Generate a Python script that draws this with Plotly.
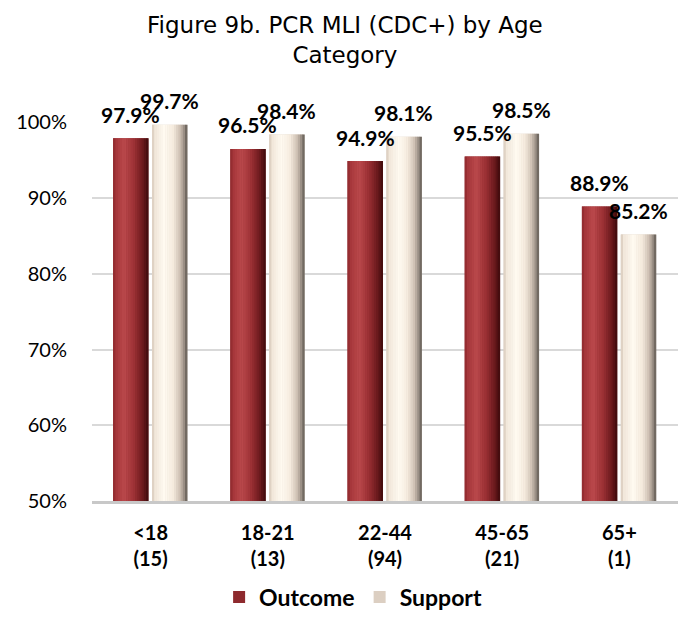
import plotly.graph_objects as go

# Data
categories = ["<18<br>(15)", "18-21<br>(13)", "22-44<br>(94)", "45-65<br>(21)", "65+<br>(1)"]
outcome = [0.979, 0.965, 0.949, 0.955, 0.889]
support = [0.997, 0.984, 0.981, 0.985, 0.852]

x = list(range(len(categories)))

BAR_W = 0.30
OUT_OFF = -0.32
SUP_OFF = 0.012

# Horizontal colour profiles that give each bar a rounded, cylinder-like look
OUT_STOPS = [(0.0, "#8a272b"), (0.08, "#a5363a"), (0.32, "#bb494c"),
             (0.6, "#9b3034"), (0.85, "#6a191c"), (1.0, "#3c0a0c")]
SUP_STOPS = [(0.0, "#d3c5b6"), (0.08, "#f1e7da"), (0.35, "#fffaf1"),
             (0.6, "#f5ebde"), (0.8, "#cdbfb2"), (0.92, "#958a80"), (1.0, "#5c554e")]


def hex_to_rgb(h):
    h = h.lstrip("#")
    return tuple(int(h[i:i + 2], 16) for i in (0, 2, 4))


def sample(stops, t):
    for (t0, c0), (t1, c1) in zip(stops[:-1], stops[1:]):
        if t0 <= t <= t1:
            a, b = hex_to_rgb(c0), hex_to_rgb(c1)
            f = (t - t0) / (t1 - t0) if t1 > t0 else 0
            r = [round(a[k] + (b[k] - a[k]) * f) for k in range(3)]
            return f"rgb({r[0]},{r[1]},{r[2]})"
    return stops[-1][1]


def shaded_bars(name, values, offset, stops, legend_color, n=16):
    traces = [go.Bar(
        x=x, y=values, offset=offset, width=BAR_W, name=name,
        marker=dict(color=legend_color, line_width=0),
        showlegend=True, hoverinfo="skip",
    )]
    sw = BAR_W / n
    for i in range(n):
        t = (i + 0.5) / n
        traces.append(go.Bar(
            x=x, y=values, offset=offset + i * sw, width=sw * 1.15,
            marker=dict(color=sample(stops, t), line_width=0),
            showlegend=False, hoverinfo="skip",
        ))
    return traces


fig = go.Figure()
for tr in shaded_bars("Outcome", outcome, OUT_OFF, OUT_STOPS, "#8e2a2e"):
    fig.add_trace(tr)
for tr in shaded_bars("Support", support, SUP_OFF, SUP_STOPS, "#dccfc2"):
    fig.add_trace(tr)

LABEL_FONT = dict(family="Lato", size=21, color="black", weight="bold")
for i in x:
    fig.add_annotation(x=i + OUT_OFF + BAR_W / 2, y=outcome[i], text=f"{outcome[i] * 100:.1f}%",
                       showarrow=False, yshift=24, font=LABEL_FONT)
    fig.add_annotation(x=i + SUP_OFF + BAR_W / 2, y=support[i], text=f"{support[i] * 100:.1f}%",
                       showarrow=False, yshift=24, font=LABEL_FONT)

fig.update_layout(
    width=683, height=635,
    margin=dict(l=92, r=5, t=122, b=134),
    paper_bgcolor="white", plot_bgcolor="white",
    barmode="overlay",
    title=dict(text="Figure 9b. PCR MLI (CDC+) by Age<br>Category",
               x=0.505, xref="container", xanchor="center",
               y=1 - 33 / 635, yref="container", yanchor="middle",
               font=dict(family="DejaVu Sans", size=23, color="black")),
    xaxis=dict(range=[-0.5, 4.5], tickvals=x, ticktext=categories,
               showgrid=False, showline=True, linecolor="#c8c8c8", linewidth=3,
               ticks="", ticklabelstandoff=12,
               tickfont=dict(family="Lato", size=20, color="black", weight="bold")),
    yaxis=dict(range=[0.5, 1.0005], dtick=0.1, tickformat=".0%",
               showgrid=True, gridcolor="#d9d9d9", gridwidth=2,
               zeroline=False, showline=False, ticks="", ticklabelstandoff=24,
               tickfont=dict(family="Lato", size=20, color="black")),
    legend=dict(orientation="h", x=0.517, xref="container", xanchor="center",
                y=1 - 597 / 635, yref="container", yanchor="middle",
                font=dict(family="Lato", size=23, color="black", weight="bold"),
                itemwidth=30, traceorder="normal"),
)

fig.write_html("out.html")
